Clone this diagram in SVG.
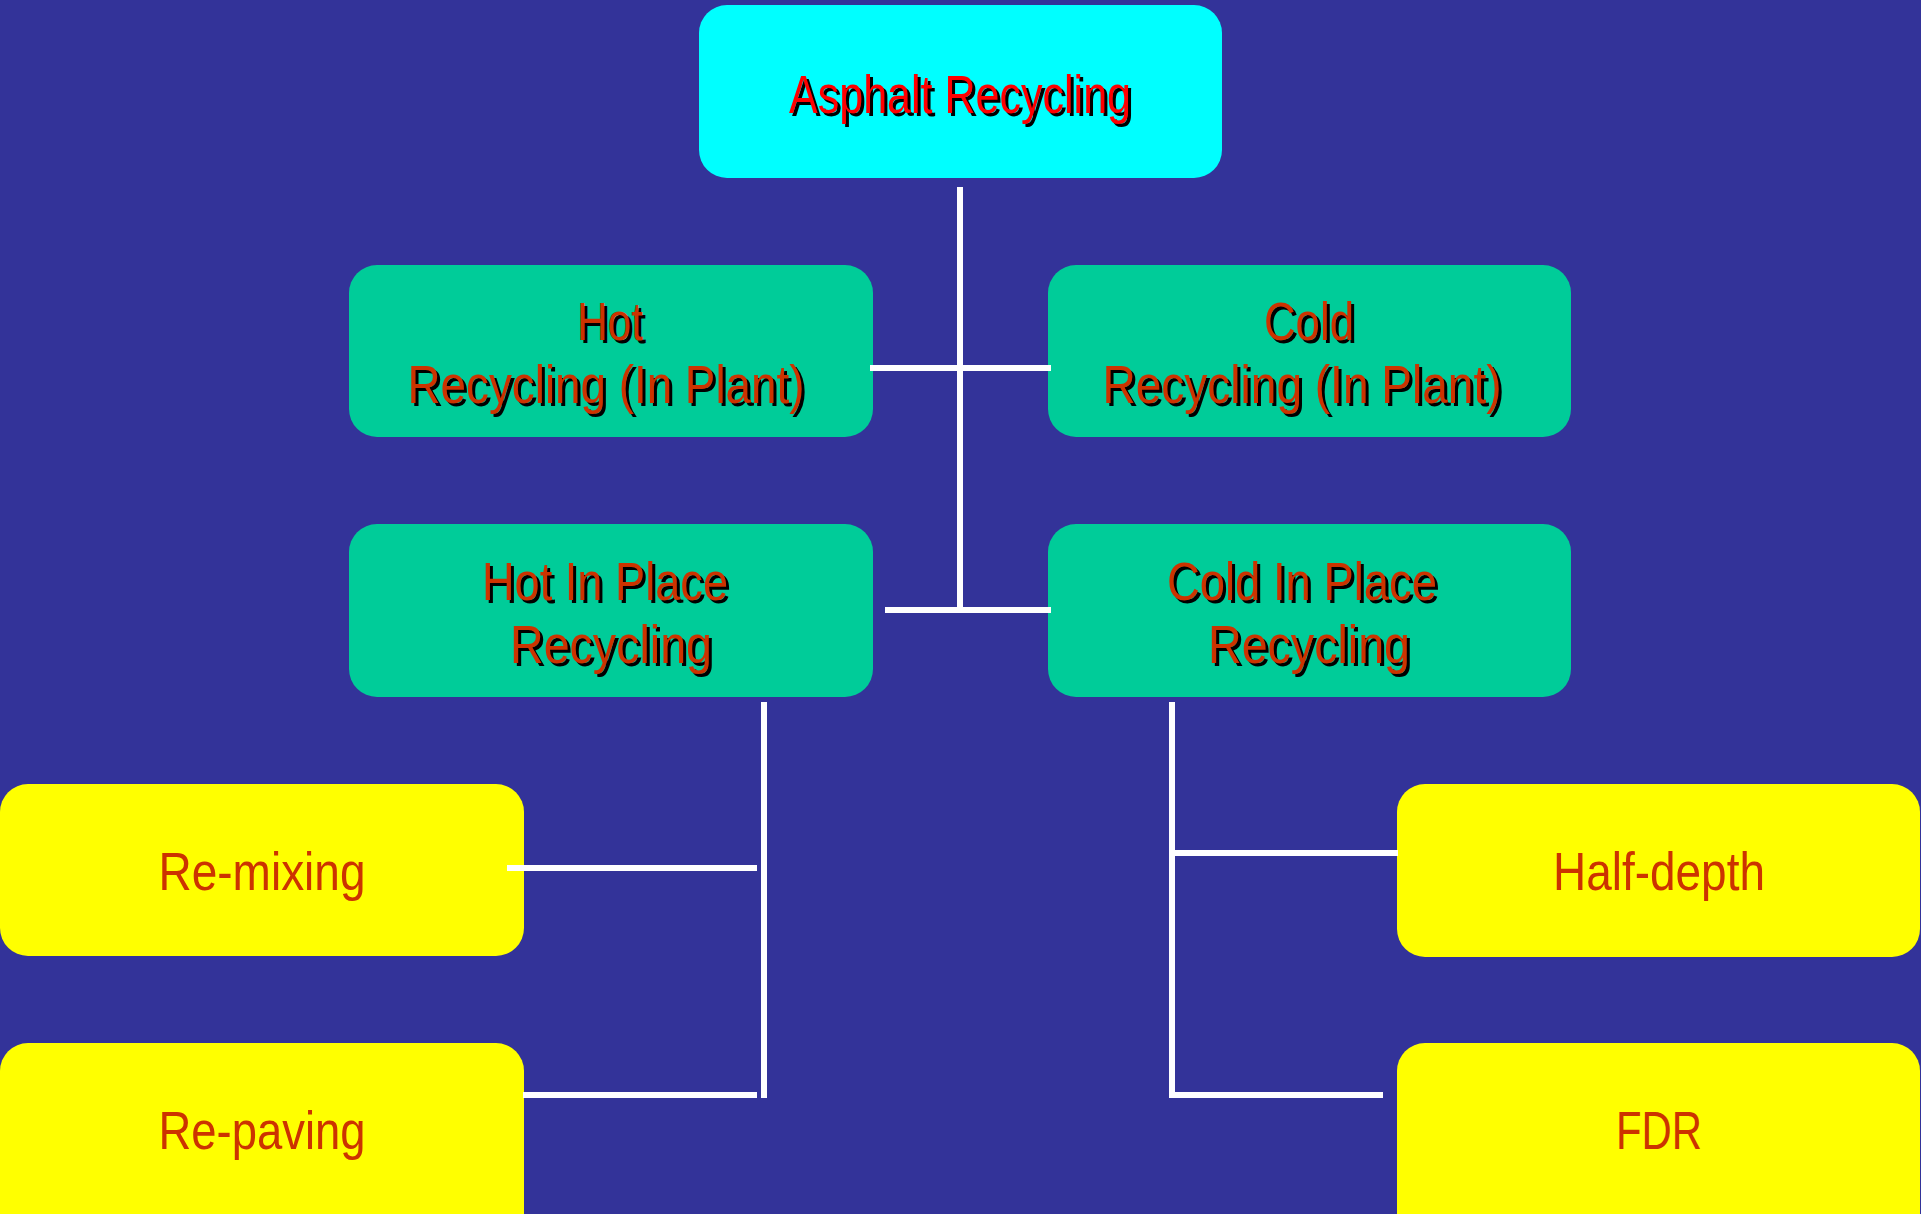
<svg xmlns="http://www.w3.org/2000/svg" width="1921" height="1214" viewBox="0 0 1921 1214">
<style>
.bg{fill:#333399}
.top{fill:#00FFFF}
.mid{fill:#00CC99}
.leaf{fill:#FFFF00}
text{font-family:"Liberation Sans",Arial,sans-serif;font-size:54px;text-anchor:middle}
.t1{fill:#FF0000}
.t2{fill:#CC3300}
.sh{fill:#000000}
.conn line{stroke:#FFFFFF;stroke-width:6}
</style>
<rect class="bg" x="0" y="0" width="1921" height="1214"/>
<g id="n-asphalt">
<rect class="top" x="699" y="5" width="523" height="173" rx="28"/>
<text class="sh" x="963" y="116" textLength="342" lengthAdjust="spacingAndGlyphs">Asphalt Recycling</text>
<text class="t1" x="960" y="113" textLength="342" lengthAdjust="spacingAndGlyphs">Asphalt Recycling</text>
</g>
<g id="n-hot-plant">
<rect class="mid" x="349" y="265" width="524" height="172" rx="28"/>
<text class="sh" x="613" y="343" textLength="66" lengthAdjust="spacingAndGlyphs">Hot</text>
<text class="t2" x="610" y="340" textLength="66" lengthAdjust="spacingAndGlyphs">Hot</text>
<text class="sh" x="609" y="406" textLength="397" lengthAdjust="spacingAndGlyphs">Recycling (In Plant)</text>
<text class="t2" x="606" y="403" textLength="397" lengthAdjust="spacingAndGlyphs">Recycling (In Plant)</text>
</g>
<g id="n-cold-plant">
<rect class="mid" x="1048" y="265" width="523" height="172" rx="28"/>
<text class="sh" x="1312" y="343" textLength="90" lengthAdjust="spacingAndGlyphs">Cold</text>
<text class="t2" x="1309" y="340" textLength="90" lengthAdjust="spacingAndGlyphs">Cold</text>
<text class="sh" x="1305" y="406" textLength="399" lengthAdjust="spacingAndGlyphs">Recycling (In Plant)</text>
<text class="t2" x="1302" y="403" textLength="399" lengthAdjust="spacingAndGlyphs">Recycling (In Plant)</text>
</g>
<g id="n-hot-place">
<rect class="mid" x="349" y="524" width="524" height="173" rx="28"/>
<text class="sh" x="608" y="603" textLength="246" lengthAdjust="spacingAndGlyphs">Hot In Place</text>
<text class="t2" x="605" y="600" textLength="246" lengthAdjust="spacingAndGlyphs">Hot In Place</text>
<text class="sh" x="614" y="666" textLength="202" lengthAdjust="spacingAndGlyphs">Recycling</text>
<text class="t2" x="611" y="663" textLength="202" lengthAdjust="spacingAndGlyphs">Recycling</text>
</g>
<g id="n-cold-place">
<rect class="mid" x="1048" y="524" width="523" height="173" rx="28"/>
<text class="sh" x="1305" y="603" textLength="270" lengthAdjust="spacingAndGlyphs">Cold In Place</text>
<text class="t2" x="1302" y="600" textLength="270" lengthAdjust="spacingAndGlyphs">Cold In Place</text>
<text class="sh" x="1312" y="666" textLength="202" lengthAdjust="spacingAndGlyphs">Recycling</text>
<text class="t2" x="1309" y="663" textLength="202" lengthAdjust="spacingAndGlyphs">Recycling</text>
</g>
<g id="n-remixing">
<rect class="leaf" x="0" y="784" width="524" height="172" rx="28"/>
<text class="t2" x="262" y="890" textLength="207" lengthAdjust="spacingAndGlyphs">Re-mixing</text>
</g>
<g id="n-repaving">
<rect class="leaf" x="0" y="1043" width="524" height="200" rx="28"/>
<text class="t2" x="262" y="1149" textLength="207" lengthAdjust="spacingAndGlyphs">Re-paving</text>
</g>
<g id="n-halfdepth">
<rect class="leaf" x="1397" y="784" width="523" height="173" rx="28"/>
<text class="t2" x="1659" y="890" textLength="212" lengthAdjust="spacingAndGlyphs">Half-depth</text>
</g>
<g id="n-fdr">
<rect class="leaf" x="1397" y="1043" width="523" height="200" rx="28"/>
<text class="t2" x="1659" y="1149" textLength="86" lengthAdjust="spacingAndGlyphs">FDR</text>
</g>
<g id="connectors" class="conn">
<line x1="960" y1="187" x2="960" y2="610"/>
<line x1="870" y1="368" x2="1051" y2="368"/>
<line x1="885" y1="610" x2="1051" y2="610"/>
<line x1="764" y1="702" x2="764" y2="1098"/>
<line x1="507" y1="868" x2="757" y2="868"/>
<line x1="523" y1="1095" x2="757" y2="1095"/>
<line x1="1172" y1="702" x2="1172" y2="1098"/>
<line x1="1172" y1="853" x2="1398" y2="853"/>
<line x1="1170" y1="1095" x2="1383" y2="1095"/>
</g>
</svg>
